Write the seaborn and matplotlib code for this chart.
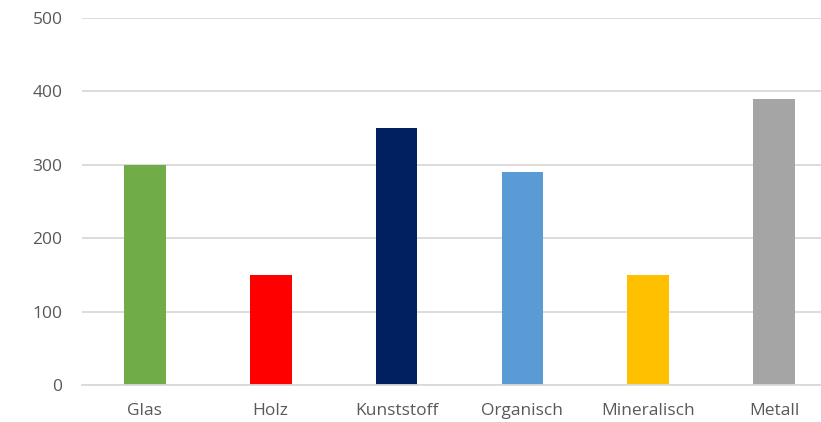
import matplotlib
matplotlib.use('Agg')
import matplotlib.pyplot as plt
import seaborn as sns
import pandas as pd
import numpy as np

# Werte
materials = ['Glas', 'Holz', 'Kunststoff', 'Organisch', 'Mineralisch', 'Metall']
amounts = [300, 150, 350, 290, 150, 390]
bar_colors = ['#70AD47', '#FF0000', '#002060', '#5B9BD5', '#FFC000', '#A5A5A5']
y_ticks = [0, 100, 200, 300, 400, 500]

df = pd.DataFrame({'Material': materials, 'Menge': amounts})

sns.set_style('white')
plt.rcParams['font.family'] = ['Open Sans', 'DejaVu Sans']

fig = plt.figure(figsize=(8.21, 4.22), dpi=100)
# plot area runs past the right edge like the cropped original
ax = fig.add_axes([82 / 821, 37 / 422, 755 / 821, 367 / 422])

sns.barplot(data=df, x='Material', y='Menge', hue='Material', palette=bar_colors,
            legend=False, width=0.33, saturation=1, linewidth=0, ax=ax)

ax.set_ylim(0, 500)
ax.set_xlim(-0.5, len(materials) - 0.5)
ax.set_yticks(y_ticks)
ax.yaxis.grid(True, color='#D9D9D9', linewidth=1.3)
ax.set_axisbelow(True)
for s in ['top', 'right', 'left']:
    ax.spines[s].set_visible(False)
ax.spines['bottom'].set_color('#D9D9D9')
ax.spines['bottom'].set_linewidth(1.3)

ax.set_xticks(np.arange(-0.5, len(materials), 1.0), minor=True)
ax.tick_params(axis='x', which='minor', length=5, width=1.2, color='#D0D0D0')
ax.tick_params(axis='x', which='major', length=0, pad=13, labelsize=12.5, labelcolor='#595959')
ax.tick_params(axis='y', length=0, pad=14, labelsize=12.5, labelcolor='#595959')
ax.set_xlabel('')
ax.set_ylabel('')

fig.savefig('out.png', dpi=100)
